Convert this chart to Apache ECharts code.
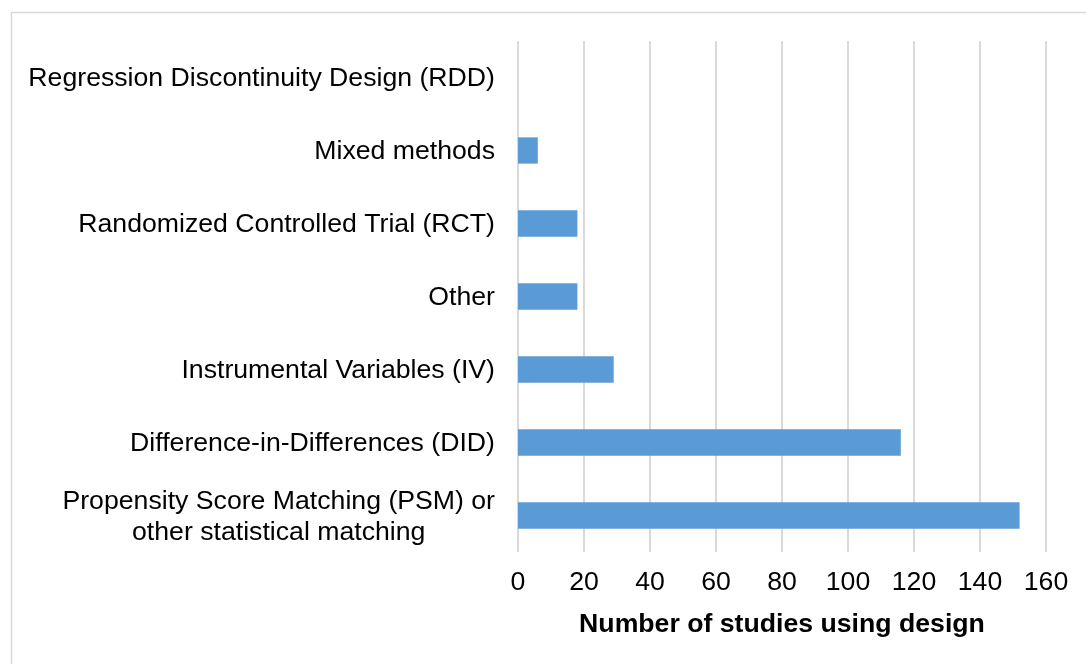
<!DOCTYPE html>
<html>
<head>
<meta charset="utf-8">
<script src="https://cdn.jsdelivr.net/npm/echarts@6/dist/echarts.min.js"></script>
<style>
  html, body { margin: 0; padding: 0; background: #fff; }
  #chart { width: 1086px; height: 664px; }
</style>
</head>
<body>
<div id="chart"></div>
<script>
// bottom to top, as the category axis draws them
const designs = [
  "Propensity Score Matching (PSM) or\nother statistical matching",
  "Difference-in-Differences (DID)",
  "Instrumental Variables (IV)",
  "Other",
  "Randomized Controlled Trial (RCT)",
  "Mixed methods",
  "Regression Discontinuity Design (RDD)"
];
const studyCounts = [152, 116, 29, 18, 18, 6, 0];
const xTicks = { min: 0, max: 160, interval: 20 };

const chart = echarts.init(document.getElementById("chart"));
const font = "'Liberation Sans', Arial, sans-serif";
const fs = 26.67;

chart.setOption({
  backgroundColor: "#fff",
  animation: false,
  graphic: [{
    type: "rect",
    shape: { x: 11.5, y: 12.5, width: 1100, height: 700 },
    style: { fill: "none", stroke: "#d9d9d9", lineWidth: 1.5 },
    silent: true
  }],
  grid: { left: 518, right: 40, top: 41, bottom: 112, containLabel: false },
  xAxis: {
    type: "value",
    min: xTicks.min,
    max: xTicks.max,
    interval: xTicks.interval,
    name: "Number of studies using design",
    nameLocation: "middle",
    nameGap: 59,
    nameTextStyle: { fontFamily: font, fontSize: fs, fontWeight: "bold", color: "#000" },
    axisLine: { show: false },
    axisTick: { show: false },
    axisLabel: { fontFamily: font, fontSize: fs, color: "#000", margin: 17 },
    splitLine: { show: true, lineStyle: { color: "#d9d9d9", width: 2 } }
  },
  yAxis: {
    type: "category",
    data: designs,
    axisLine: { show: false },
    axisTick: { show: false },
    axisLabel: {
      fontFamily: font,
      fontSize: fs,
      color: "#000",
      margin: 23,
      interval: 0,
      lineHeight: 31,
      formatter: (v) => v.split("\n").map((s) => "{c|" + s + "}").join("\n"),
      rich: { c: { align: "center", fontFamily: font, fontSize: fs, color: "#000", lineHeight: 31, padding: [3, 0, 0, 0] } }
    }
  },
  series: [{
    type: "bar",
    data: studyCounts,
    barWidth: "36%",
    itemStyle: { color: "#5b9bd5" }
  }]
});
</script>
</body>
</html>
